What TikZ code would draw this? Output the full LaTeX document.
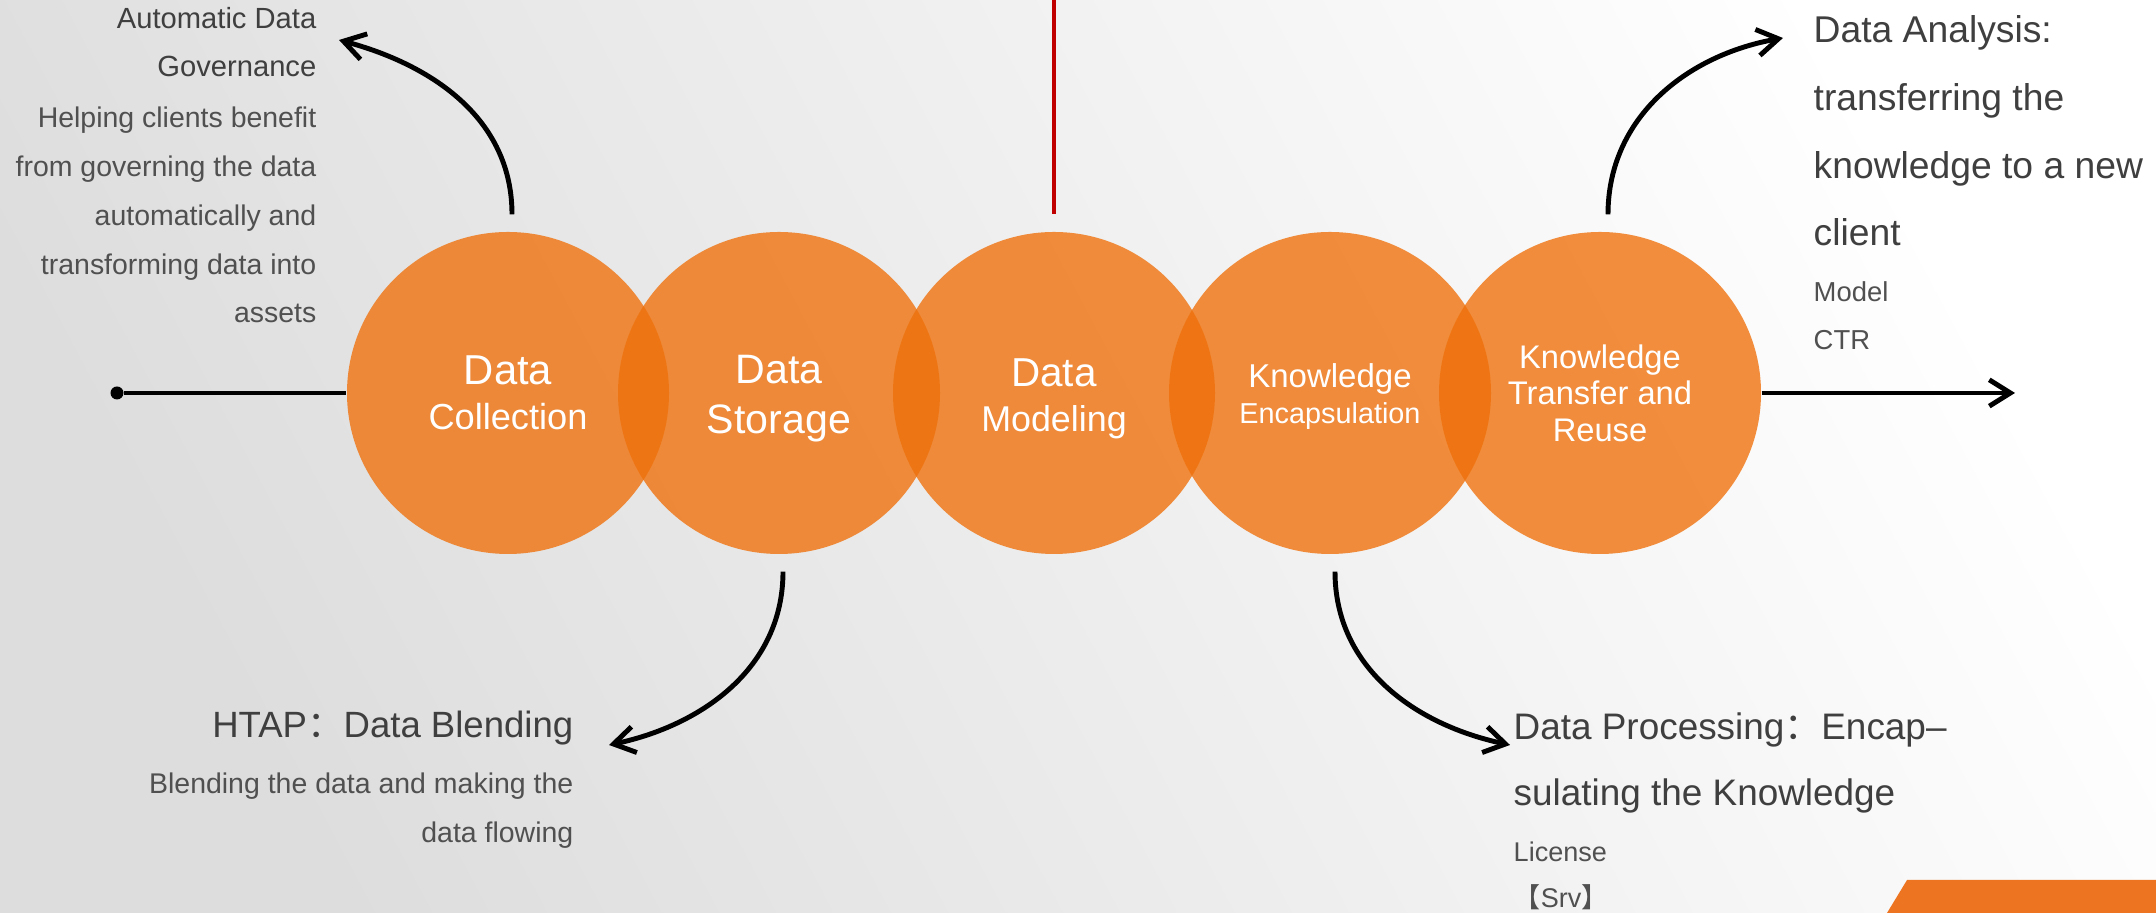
\documentclass[tikz,border=0pt]{standalone}
\usepackage{fontspec}
\setmainfont{Liberation Sans}
\newfontfamily\cjk{Noto Sans CJK SC}
\usepackage{xcolor}
\usetikzlibrary{arrows.meta, positioning}

\definecolor{blob}{HTML}{EF700A}
\definecolor{ttlgray}{HTML}{3F3F3F}
\definecolor{txtgray}{HTML}{505050}
\definecolor{bgleft}{HTML}{DDDDDD}
\definecolor{redline}{HTML}{C00000}
\definecolor{corner}{HTML}{ED7521}

\begin{document}
\begin{tikzpicture}[
    blob/.style={circle, fill=blob, fill opacity=0.79, text opacity=1, text=white,
        minimum size=\BlobSize, inner sep=0pt, align=center},
    flow/.style={line width=1.4pt, -{Straight Barb[length=6pt,width=7.5pt]}},
    ttl/.style={text=ttlgray, inner sep=0pt},
    txt/.style={text=txtgray, inner sep=0pt}
]
        \newcommand{\BlobSize}{3.22cm}
        \newcommand{\FontAt}[2]{\fontsize{#1}{#2}\selectfont}

        \useasboundingbox (0,0) rectangle (21.56,9.13);
        \shade[shading=axis, top color=white, bottom color=bgleft, shading angle=-62] (0,0) rectangle (21.56,9.13);% Background
        \fill[corner] (18.87,0) -- (19.07,0.33) -- (21.56,0.33) -- (21.56,0) -- cycle;% Corner band

        \node[blob, font=\FontAt{10.3}{12.8}] (c1) at (5.08,5.20) {{\FontAt{11.9}{12.8}Data}\\Collection};
        \node[blob, font=\FontAt{11.7}{14.2}] (c2) at (7.79,5.20) {\rule{0pt}{11.4pt}Data\\Storage};
        \node[blob, font=\FontAt{10.2}{12.8}] (c3) at (10.54,5.20) {{\FontAt{11.5}{12.8}\rule{0pt}{11.2pt}Data}\\Modeling};
        \node[blob, font=\FontAt{8.2}{10}] (c4) at (13.30,5.20) {{\FontAt{9.4}{10}\rule{0pt}{8.8pt}Knowledge}\\Encapsulation};
        \node[blob, font=\FontAt{9.3}{10.4}] (c5) at (16.00,5.20) {Knowledge\\Transfer and\\Reuse};

        % base anchor sits on the last line
        \node[ttl, font=\FontAt{8.3}{13.9}, align=right, anchor=base east] (govtitle) at (3.17,8.36) {Automatic Data\\Governance};
        \node[txt, font=\FontAt{8.1}{13.9}, align=right, anchor=base east] (govtext) at (3.17,5.90) {Helping clients benefit\\from governing the data\\automatically and\\transforming data into\\assets};

        \node[ttl, font=\FontAt{10.4}{14}, anchor=base east] (htaptitle) at (5.74,1.75) {HTAP{\cjk ：}Data Blending};
        \node[txt, font=\FontAt{8.1}{14.2}, align=right, anchor=base east] (htaptext) at (5.74,0.70) {Blending the data and making the\\data flowing};

        \node[ttl, font=\FontAt{10.6}{19.3}, align=left, anchor=base west] (anatitle) at (18.13,6.67) {Data Analysis:\\transferring the\\knowledge to a new\\client};
        \node[txt, font=\FontAt{7.8}{13.7}, align=left, anchor=base west] (anatext) at (18.13,5.63) {Model\\CTR};

        \node[ttl, font=\FontAt{10.5}{18.8}, align=left, anchor=base west] (proctitle) at (15.13,1.07) {Data Processing{\cjk ：}Encap–\\sulating the Knowledge};
        \node[txt, font=\FontAt{7.7}{13.1}, align=left, anchor=base west] (proctext) at (15.13,0.05) {License\\{\cjk 【}Srv{\cjk 】}};

        \node[circle, fill=black, inner sep=0pt, minimum size=1.3mm] (origin) at (1.17,5.20) {};
        \coordinate (arrowend) at (20.15,5.20);
        \coordinate (modtop) at (10.54,9.13);
        \coordinate (govtip) at (3.39,8.73);
        \coordinate (anatip) at (17.83,8.75);
        \coordinate (htaptip) at (6.09,1.68);
        \coordinate (proctip) at (15.10,1.68);

        \draw[line width=1.4pt] (origin) -- (c1);% Timeline in
        \draw[flow] (c5) -- (arrowend);% Timeline out
        \draw[redline, line width=0.9pt] (modtop) -- ([yshift=1.7mm]c3.north);

        \draw[flow] ([xshift=0.4mm,yshift=1.7mm]c1.north) to[out=90, in=-15] (govtip);
        \draw[flow] ([xshift=0.8mm,yshift=1.7mm]c5.north) to[out=90, in=190] (anatip);
        \draw[flow] ([xshift=0.4mm,yshift=-1.7mm]c2.south) to[out=-90, in=12] (htaptip);
        \draw[flow] ([xshift=0.5mm,yshift=-1.7mm]c4.south) to[out=-90, in=168] (proctip);
    \end{tikzpicture}
\end{document}
